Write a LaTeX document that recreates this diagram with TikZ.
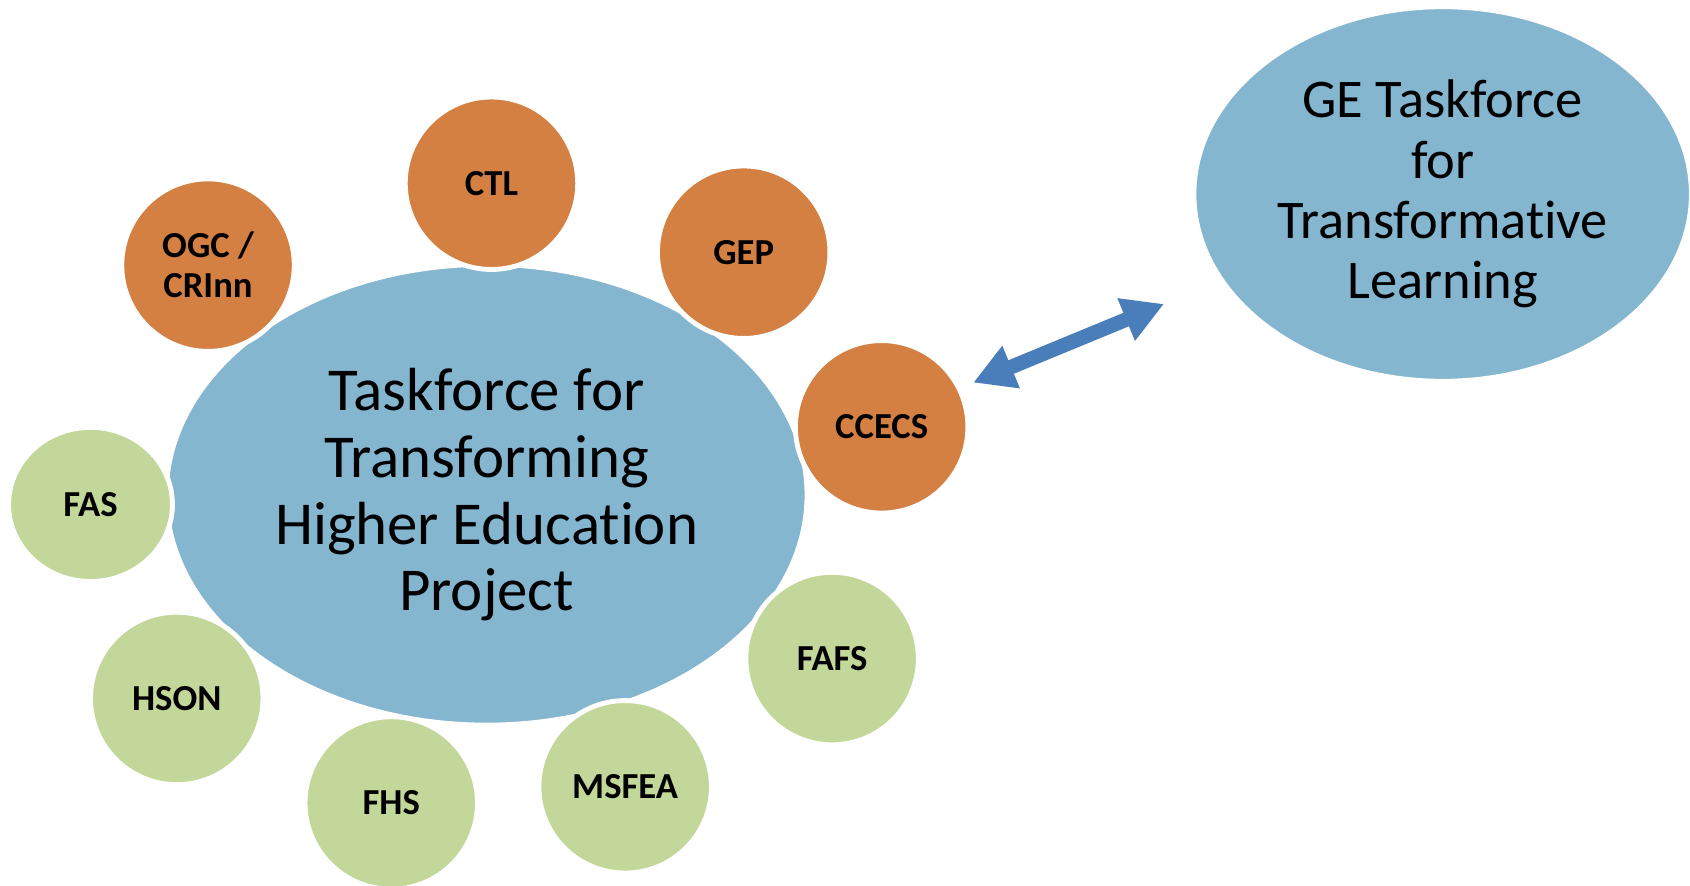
\documentclass[tikz,border=0pt]{standalone}
\usepackage{fontspec}
\setmainfont{Carlito}[Ligatures=NoCommon]
\usetikzlibrary{shapes.geometric,arrows.meta}
\definecolor{bigblue}{RGB}{133,182,207}
\definecolor{orng}{RGB}{211,128,66}
\definecolor{grn}{RGB}{196,215,155}
\definecolor{arrblue}{RGB}{74,126,187}
\tikzset{
  bigell/.style={ellipse, fill=bigblue, draw=white, line width=3pt, inner sep=0pt, align=center, text=black},
  unit/.style={circle, draw=white, line width=4.5pt, minimum size=160pt, inner sep=0pt, align=center,
    font=\bfseries\fontsize{34}{37}\selectfont, text=black},
  orangeunit/.style={unit, fill=orng},
  greenunit/.style={unit, fill=grn},
  link/.style={arrblue, line width=13.5pt,
    {Triangle[length=38pt,width=40pt]}-{Triangle[length=38pt,width=40pt]}}
}
\begin{document}
\begin{tikzpicture}[x=1pt,y=-1pt]
\useasboundingbox (0,0) rectangle (1568,822);
\begin{scope}
\clip (0,0) rectangle (1568,822);
\node[bigell, minimum width=460pt, minimum height=346pt, font=\fontsize{50.5}{56}\selectfont]
  (ge) at (1338.5,180) {GE Taskforce\\for\\Transformative\\Learning};
\node[bigell, minimum width=593pt, minimum height=426pt, font=\fontsize{56.5}{62}\selectfont]
  (main) at (451.5,459) {Taskforce for\\Transforming\\Higher Education\\Project};
\node[orangeunit] (ctl) at (456,170) {CTL};
\node[orangeunit] (ogc) at (193,246) {OGC /\\CRInn};
\node[orangeunit] (gep) at (690,234) {GEP};
\node[orangeunit] (ccecs) at (818,396) {CCECS};
\node[greenunit, ellipse, minimum width=152pt, minimum height=143pt] (fas) at (84,468) {FAS};
\node[greenunit] (hson) at (164,648) {HSON};
\node[greenunit] (fhs) at (363,745) {FHS};
\node[greenunit] (msfea) at (580,730) {MSFEA};
\node[greenunit] (fafs) at (772,611) {FAFS};
\end{scope}
\coordinate (tipA) at (903,355);
\coordinate (tipB) at (1080,282);
\draw[link] (tipA) -- (tipB);
\end{tikzpicture}
\end{document}
